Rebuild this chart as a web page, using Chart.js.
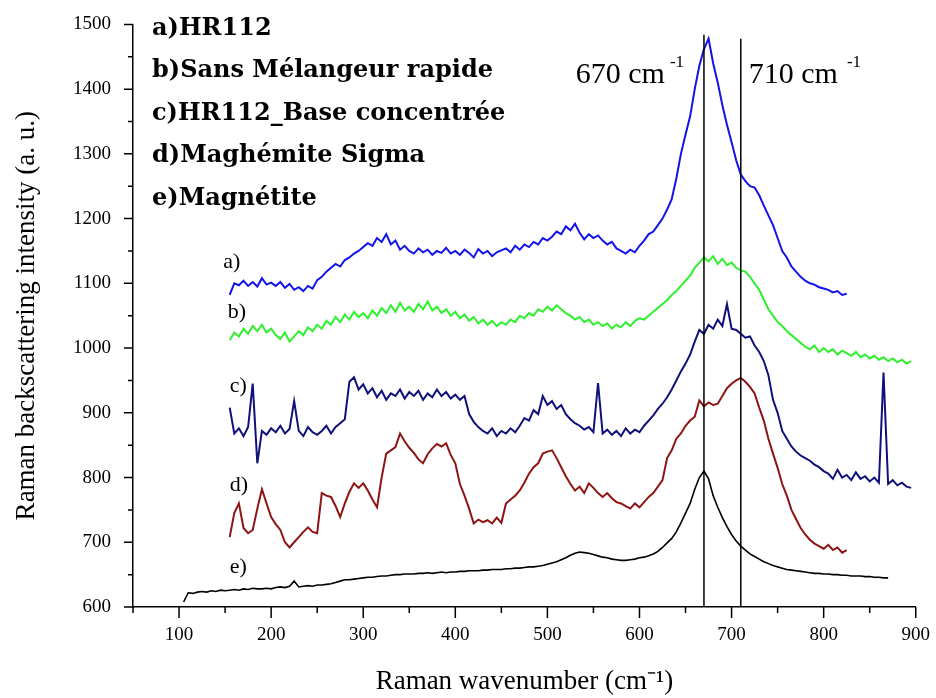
<!DOCTYPE html>
<html>
<head>
<meta charset="utf-8">
<script src="https://cdn.jsdelivr.net/npm/chart.js@4.4.1/dist/chart.umd.min.js"></script>
<style>
  body { margin: 0; background: #fff; }
  canvas { display: block; }
</style>
</head>
<body>
<canvas id="ramanChart" width="936" height="698"></canvas>
<script>
'use strict';

// wavenumber grid (cm-1), every 5 cm-1, shared by all spectra
let wavenumbers = [
  105, 110, 115, 120, 125, 130, 135, 140, 145, 150,
  155, 160, 165, 170, 175, 180, 185, 190, 195, 200,
  205, 210, 215, 220, 225, 230, 235, 240, 245, 250,
  255, 260, 265, 270, 275, 280, 285, 290, 295, 300,
  305, 310, 315, 320, 325, 330, 335, 340, 345, 350,
  355, 360, 365, 370, 375, 380, 385, 390, 395, 400,
  405, 410, 415, 420, 425, 430, 435, 440, 445, 450,
  455, 460, 465, 470, 475, 480, 485, 490, 495, 500,
  505, 510, 515, 520, 525, 530, 535, 540, 545, 550,
  555, 560, 565, 570, 575, 580, 585, 590, 595, 600,
  605, 610, 615, 620, 625, 630, 635, 640, 645, 650,
  655, 660, 665, 670, 675, 680, 685, 690, 695, 700,
  705, 710, 715, 720, 725, 730, 735, 740, 745, 750,
  755, 760, 765, 770, 775, 780, 785, 790, 795, 800,
  805, 810, 815, 820, 825, 830, 835, 840, 845, 850,
  855, 860, 865, 870, 875, 880, 885, 890, 895, 900
];

// a) HR112
let hr112 = [
  null, null, null, null, null, null, null, null, null, null,
  1082, 1100, 1097, 1104, 1096, 1102, 1095, 1108, 1098, 1101,
  1096, 1102, 1093, 1099, 1090, 1094, 1088, 1096, 1092, 1105,
  1110, 1118, 1124, 1130, 1126, 1136, 1140, 1146, 1150, 1156,
  1162, 1158, 1170, 1164, 1176, 1160, 1166, 1152, 1158, 1150,
  1146, 1154, 1148, 1152, 1144, 1150, 1147, 1155, 1146, 1150,
  1144, 1152, 1147, 1140, 1153, 1146, 1150, 1142, 1148, 1151,
  1154, 1148, 1158, 1152, 1160, 1156, 1164, 1160, 1170, 1166,
  1172, 1180, 1176, 1188, 1182, 1192, 1178, 1168, 1176, 1170,
  1174, 1166, 1160, 1164, 1154, 1150, 1146, 1152, 1148, 1158,
  1166, 1176, 1180, 1190, 1200, 1214, 1230, 1262, 1300, 1330,
  1358, 1400, 1436, 1462, 1478, 1440, 1410, 1375, 1345, 1318,
  1290, 1268, 1258, 1250, 1248, 1236, 1220, 1205, 1190, 1170,
  1150, 1140, 1126, 1118, 1110, 1104, 1100, 1098, 1094, 1092,
  1090, 1086, 1088, 1082, 1084, null, null, null, null, null,
  null, null, null, null, null, null, null, null, null, null
];

// b) Sans Mélangeur rapide
let sansMelangeur = [
  null, null, null, null, null, null, null, null, null, null,
  1012, 1024, 1018, 1030, 1022, 1034, 1026, 1036, 1024, 1030,
  1020, 1014, 1024, 1010, 1018, 1026, 1020, 1032, 1026, 1036,
  1030, 1042, 1036, 1048, 1040, 1052, 1044, 1056, 1048, 1054,
  1046, 1058, 1050, 1062, 1054, 1066, 1056, 1070, 1058, 1064,
  1056, 1068, 1060, 1072, 1058, 1064, 1054, 1060, 1050, 1056,
  1046, 1052, 1042, 1048, 1038, 1044, 1036, 1042, 1034, 1040,
  1036, 1044, 1040, 1050, 1046, 1054, 1050, 1060, 1056, 1064,
  1058, 1066, 1060, 1054, 1050, 1044, 1048, 1040, 1044, 1036,
  1040, 1034, 1038, 1030, 1036, 1032, 1040, 1034, 1042, 1046,
  1044, 1050, 1056, 1062, 1068, 1074, 1082, 1088, 1096, 1104,
  1112, 1124, 1132, 1140, 1134, 1142, 1130, 1138, 1128, 1132,
  1124, 1120, 1118, 1110, 1100, 1090, 1075, 1060, 1050, 1040,
  1034, 1026, 1020, 1014, 1008, 1002, 998, 1004, 994, 1000,
  994, 998, 990, 996, 992, 988, 994, 986, 990, 984,
  988, 982, 986, 980, 984, 978, 982, 976, 980, null
];

// c) HR112_Base concentrée
let baseConcentree = [
  null, null, null, null, null, null, null, null, null, null,
  908, 868, 876, 864, 878, 945, 822, 872, 866, 876,
  870, 880, 868, 875, 918, 872, 864, 878, 870, 866,
  872, 880, 868, 878, 884, 890, 948, 955, 936, 944,
  930, 938, 924, 934, 920, 930, 926, 936, 922, 932,
  926, 934, 920, 930, 924, 936, 926, 932, 922, 928,
  920, 926, 898, 886, 878, 872, 868, 876, 864, 872,
  868, 876, 870, 880, 892, 888, 904, 898, 926, 912,
  918, 906, 912, 898, 890, 884, 880, 874, 878, 870,
  946, 868, 874, 866, 872, 864, 876, 868, 874, 870,
  880, 888, 896, 906, 914, 924, 936, 950, 964, 976,
  990, 1010, 1028, 1022, 1036, 1030, 1044, 1034, 1068, 1030,
  1028, 1022, 1016, 1018, 1004, 994, 980, 958, 920, 900,
  872, 860, 848, 840, 834, 830, 826, 820, 816, 810,
  806, 798, 812, 800, 804, 796, 808, 798, 802, 794,
  800, 792, 962, 790, 796, 788, 792, 786, 784, null
];

// d) Maghémite Sigma
let maghemite = [
  null, null, null, null, null, null, null, null, null, null,
  708, 745, 760, 722, 714, 719, 752, 782, 760, 739,
  728, 719, 700, 692, 700, 708, 716, 723, 716, 714,
  776, 772, 770, 756, 739, 760, 778, 791, 784, 791,
  780, 766, 754, 800, 837, 842, 847, 868, 856, 846,
  838, 828, 822, 836, 845, 852, 848, 853, 835, 822,
  790, 772, 752, 729, 735, 731, 734, 729, 738, 730,
  760, 766, 772, 780, 792, 806, 816, 822, 837, 840,
  842, 830, 816, 802, 790, 780, 786, 776, 791, 784,
  776, 770, 776, 768, 762, 760, 756, 752, 760, 754,
  762, 770, 776, 786, 796, 830, 842, 860, 868, 880,
  888, 894, 919, 910, 916, 912, 914, 926, 938, 945,
  950, 954, 948, 940, 930, 908, 888, 860, 837, 815,
  790, 772, 750, 736, 722, 712, 704, 698, 694, 690,
  696, 688, 692, 684, 688, null, null, null, null, null,
  null, null, null, null, null, null, null, null, null, null
];

// e) Magnétite
let magnetite = [
  608, 622, 621, 623, 624, 623, 625, 624, 626, 625,
  626, 627, 626, 628, 627, 629, 628, 628, 629, 628,
  630, 631, 630, 632, 640, 631, 632, 633, 632, 634,
  634, 635, 636, 638, 640, 642, 642, 643, 644, 645,
  646, 646, 647, 648, 648, 649, 650, 650, 651, 651,
  651, 652, 652, 653, 652, 653, 654, 653, 654, 654,
  655, 655, 656, 656, 656, 657, 657, 658, 658, 658,
  659, 659, 660, 660, 661, 662, 662, 663, 664, 666,
  668, 670, 673, 676, 680, 683, 685, 684, 683, 681,
  679, 677, 676, 674, 673, 672, 672, 673, 674, 676,
  677, 679, 682, 686, 692, 699, 706, 716, 730, 745,
  760, 782, 800, 810, 798, 772, 754, 738, 724, 712,
  702, 694, 688, 682, 678, 674, 670, 667, 664, 662,
  660, 658, 657, 656, 655, 654, 653, 652, 652, 651,
  651, 650, 650, 649, 649, 648, 648, 648, 647, 647,
  646, 646, 645, 645, null, null, null, null, null, null
];

// marker lines at 670 and 710 cm-1 (top end of each line)
let markerPositions = [670, 710];
let markerTops = [1484, 1478];

let xTickLabels = [100, 200, 300, 400, 500, 600, 700, 800, 900];
let xMinorTicks = [50, 150, 250, 350, 450, 550, 650, 750, 850];
let yTickLabels = [600, 700, 800, 900, 1000, 1100, 1200, 1300, 1400, 1500];
let yMinorTicks = [650, 750, 850, 950, 1050, 1150, 1250, 1350, 1450];

let legendLines = [
  'a)HR112',
  'b)Sans Mélangeur rapide',
  'c)HR112_Base concentrée',
  'd)Maghémite Sigma',
  'e)Magnétite'
];
let curveTags = ['a)', 'b)', 'c)', 'd)', 'e)'];

function toPoints(values) {
  let pts = [];
  for (let i = 0; i < wavenumbers.length; i++) {
    if (values[i] !== null) {
      pts.push({ x: wavenumbers[i], y: values[i] });
    }
  }
  return pts;
}

function spectrum(values, color, width) {
  return {
    data: toPoints(values),
    borderColor: color,
    borderWidth: width,
    pointRadius: 0,
    tension: 0,
    order: 1
  };
}

let datasets = [];
for (let i = 0; i < markerPositions.length; i++) {
  datasets.push({
    data: [{ x: markerPositions[i], y: 600 }, { x: markerPositions[i], y: markerTops[i] }],
    borderColor: '#000',
    borderWidth: 1.5,
    pointRadius: 0,
    order: 0
  });
}
datasets.push(spectrum(hr112, '#1212ea', 2));
datasets.push(spectrum(sansMelangeur, '#2ef02e', 2));
datasets.push(spectrum(baseConcentree, '#10107a', 2));
datasets.push(spectrum(maghemite, '#8e1414', 2));
datasets.push(spectrum(magnetite, '#000000', 1.6));

// tick marks: long for labelled values, short in between
const tickMarks = {
  id: 'tickMarks',
  afterDraw(chart) {
    const { ctx, scales: { x, y } } = chart;
    ctx.save();
    ctx.strokeStyle = '#000';
    ctx.lineWidth = 1.5;
    ctx.beginPath();
    xTickLabels.forEach(v => { let p = x.getPixelForValue(v); ctx.moveTo(p, y.bottom); ctx.lineTo(p, y.bottom + 11); });
    xMinorTicks.forEach(v => { let p = x.getPixelForValue(v); ctx.moveTo(p, y.bottom); ctx.lineTo(p, y.bottom + 6); });
    yTickLabels.forEach(v => { let p = y.getPixelForValue(v); ctx.moveTo(x.left, p); ctx.lineTo(x.left - 9, p); });
    yMinorTicks.forEach(v => { let p = y.getPixelForValue(v); ctx.moveTo(x.left, p); ctx.lineTo(x.left - 5, p); });
    ctx.stroke();
    ctx.restore();
  }
};

// legend block, curve tags and peak labels
const annotations = {
  id: 'annotations',
  afterDraw(chart) {
    const { ctx, chartArea, scales: { x, y } } = chart;
    ctx.save();
    ctx.fillStyle = '#000';
    ctx.textBaseline = 'middle';

    ctx.font = 'bold 24px "DejaVu Serif"';
    ctx.textAlign = 'left';
    legendLines.forEach((t, i) => {
      ctx.fillText(t, chartArea.left + 19, chartArea.top + 4 + i * 42.5);
    });

    ctx.font = '22px "Liberation Serif"';
    let tagPos = [[148, 1132], [153, 1055], [155, 941], [155, 788], [155, 662]];
    curveTags.forEach((t, i) => {
      ctx.fillText(t, x.getPixelForValue(tagPos[i][0]), y.getPixelForValue(tagPos[i][1]));
    });

    ctx.textBaseline = 'alphabetic';
    let base = chartArea.top + 59;
    let p670 = x.getPixelForValue(670);
    let p710 = x.getPixelForValue(710);
    ctx.font = '30px "Liberation Serif"';
    ctx.textAlign = 'right';
    ctx.fillText('670 cm', p670 - 39, base);
    ctx.textAlign = 'left';
    ctx.fillText('710 cm', p710 + 8, base);
    let w710 = ctx.measureText('710 cm').width;
    ctx.font = '17px "Liberation Serif"';
    ctx.fillText('-1', p670 - 34, base - 16);
    ctx.fillText('-1', p710 + 8 + w710 + 9, base - 16);
    ctx.restore();
  }
};

const serif = '"Liberation Serif", "Times New Roman", serif';

new Chart(document.getElementById('ramanChart').getContext('2d'), {
  type: 'line',
  data: { datasets: datasets },
  options: {
    responsive: false,
    animation: false,
    layout: { padding: { top: 24, right: 17, left: 0, bottom: 0 } },
    plugins: { legend: { display: false }, tooltip: { enabled: false } },
    scales: {
      x: {
        type: 'linear',
        min: 50,
        max: 900,
        afterBuildTicks: s => { s.ticks = xTickLabels.map(v => ({ value: v })); },
        afterFit: s => { s.height = 91; },
        grid: { display: false, drawTicks: true, tickLength: 11 },
        border: { display: true, color: '#000', width: 1.5 },
        ticks: { color: '#000', padding: 6, maxRotation: 0, callback: v => String(v), font: { family: serif, size: 19 } },
        title: {
          display: true,
          text: 'Raman wavenumber (cm⁻¹)',
          color: '#000',
          padding: { top: 0, bottom: 0 },
          font: { family: serif, size: 27 }
        }
      },
      y: {
        type: 'linear',
        min: 600,
        max: 1500,
        afterBuildTicks: s => { s.ticks = yTickLabels.map(v => ({ value: v })); },
        afterFit: s => { s.width = 133; },
        grid: { display: false, drawTicks: true, tickLength: 9 },
        border: { display: true, color: '#000', width: 1.5 },
        ticks: { color: '#000', padding: 13, callback: v => String(v), font: { family: serif, size: 19 } },
        title: {
          display: true,
          text: 'Raman backscattering intensity (a. u.)',
          color: '#000',
          padding: { top: 11, bottom: 0 },
          font: { family: serif, size: 27 }
        }
      }
    }
  },
  plugins: [tickMarks, annotations]
});
</script>
</body>
</html>
